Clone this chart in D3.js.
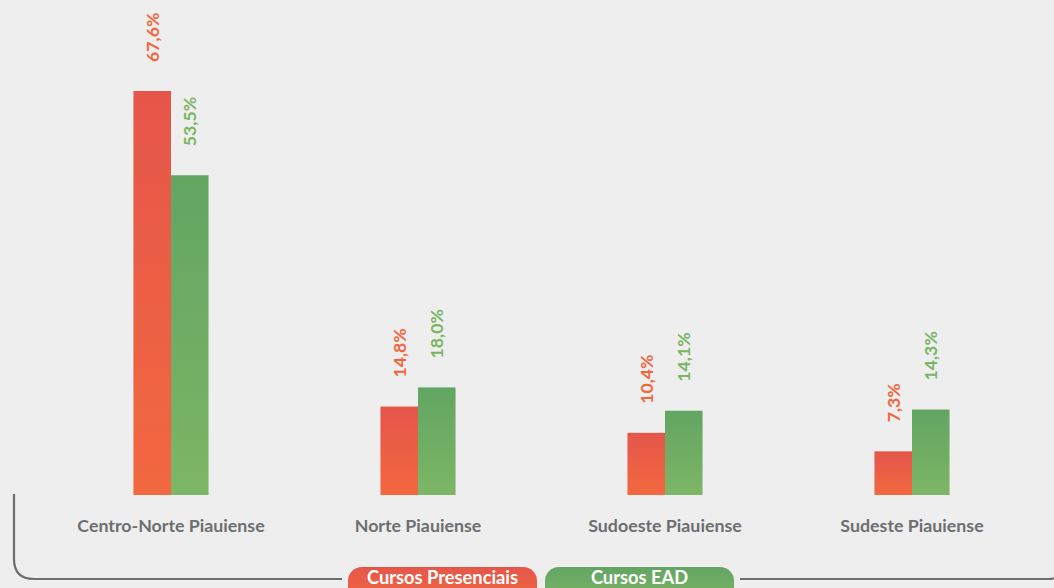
<!DOCTYPE html>
<html>
<head>
<meta charset="utf-8">
<script src="https://cdn.jsdelivr.net/npm/d3@7"></script>
<style>
  html, body { margin: 0; padding: 0; background: #eeeeee; }
  svg { display: block; }
</style>
</head>
<body>
<script>
const categories = ["Centro-Norte Piauiense", "Norte Piauiense", "Sudoeste Piauiense", "Sudeste Piauiense"];
const seriesNames = ["Cursos Presenciais", "Cursos EAD"];
const presenciais = [67.6, 14.8, 10.4, 7.3];
const ead = [53.5, 18.0, 14.1, 14.3];
const seriesValues = [presenciais, ead];

const W = 1054, H = 588;
const baseY = 495;
const FONT = "Lato, 'Open Sans', sans-serif";

const svg = d3.select("body").append("svg").attr("width", W).attr("height", H);
svg.append("rect").attr("width", W).attr("height", H).attr("fill", "#eeeeee");

const defs = svg.append("defs");
function grad(id, top, bottom) {
  const g = defs.append("linearGradient").attr("id", id)
    .attr("x1", 0).attr("y1", 0).attr("x2", 0).attr("y2", 1);
  g.append("stop").attr("offset", "0%").attr("stop-color", top);
  g.append("stop").attr("offset", "100%").attr("stop-color", bottom);
}
grad("gRed", "#e5564a", "#f2683f");
grad("gGreen", "#62a562", "#7db665");
const fills = ["url(#gRed)", "url(#gGreen)"];
const labelColors = ["#f1663f", "#7ab563"];

const x0 = d3.scaleBand().domain(categories).range([47.5, 1035.5]).paddingInner(0.696).paddingOuter(0.348);
const x1 = d3.scaleBand().domain([0, 1]).range([0, x0.bandwidth()]);
const y = d3.scaleLinear().domain([0, 67.6]).range([baseY, 91]);

const groups = svg.selectAll("g.grp").data(categories).enter().append("g")
  .attr("class", "grp")
  .attr("transform", d => `translate(${x0(d)},0)`);

groups.each(function(cat, ci) {
  const g = d3.select(this);
  [0, 1].forEach(si => {
    const v = seriesValues[si][ci];
    g.append("rect")
      .attr("x", x1(si))
      .attr("y", y(v))
      .attr("width", x1.bandwidth())
      .attr("height", baseY - y(v))
      .attr("fill", fills[si]);
    const cx = x1(si) + x1.bandwidth() / 2 + 6.5;
    const ty = y(v) - 29;
    g.append("text")
      .attr("transform", `translate(${cx},${ty}) rotate(-90)`)
      .attr("text-anchor", "start")
      .attr("font-family", FONT)
      .attr("font-weight", 700)
      .attr("font-size", 17.7)
      .attr("fill", labelColors[si])
      .text(v.toFixed(1).replace(".", ",") + "%");
  });
});

// category labels
svg.selectAll("text.cat").data(categories).enter().append("text")
  .attr("class", "cat")
  .attr("x", d => x0(d) + x0.bandwidth() / 2)
  .attr("y", 531.5)
  .attr("text-anchor", "middle")
  .attr("font-family", FONT)
  .attr("font-weight", 700)
  .attr("font-size", 17.8)
  .attr("fill", "#6d6e71")
  .text(d => d);

// bracket
svg.append("path")
  .attr("d", "M14,494 V559 Q14,579 34,579 H342")
  .attr("fill", "none").attr("stroke", "#6d6e71").attr("stroke-width", 2.2);
svg.append("path")
  .attr("d", "M740,579 H1048 Q1068,579 1068,559")
  .attr("fill", "none").attr("stroke", "#6d6e71").attr("stroke-width", 2.2);

// legend pills
const legX = d3.scaleOrdinal().domain(seriesNames).range([348, 545]);
const legW = [189, 189];
const leg = svg.selectAll("g.leg").data(seriesNames).enter().append("g").attr("class", "leg");
leg.append("rect")
  .attr("x", d => legX(d))
  .attr("y", 567)
  .attr("width", (d, i) => legW[i])
  .attr("height", 34)
  .attr("rx", 14)
  .attr("fill", (d, i) => fills[i]);
leg.append("text")
  .attr("x", (d, i) => legX(d) + legW[i] / 2)
  .attr("y", 584.3)
  .attr("text-anchor", "middle")
  .attr("font-family", FONT)
  .attr("font-weight", 700)
  .attr("font-size", 18.3)
  .attr("fill", "#ffffff")
  .text(d => d);
</script>
</body>
</html>
